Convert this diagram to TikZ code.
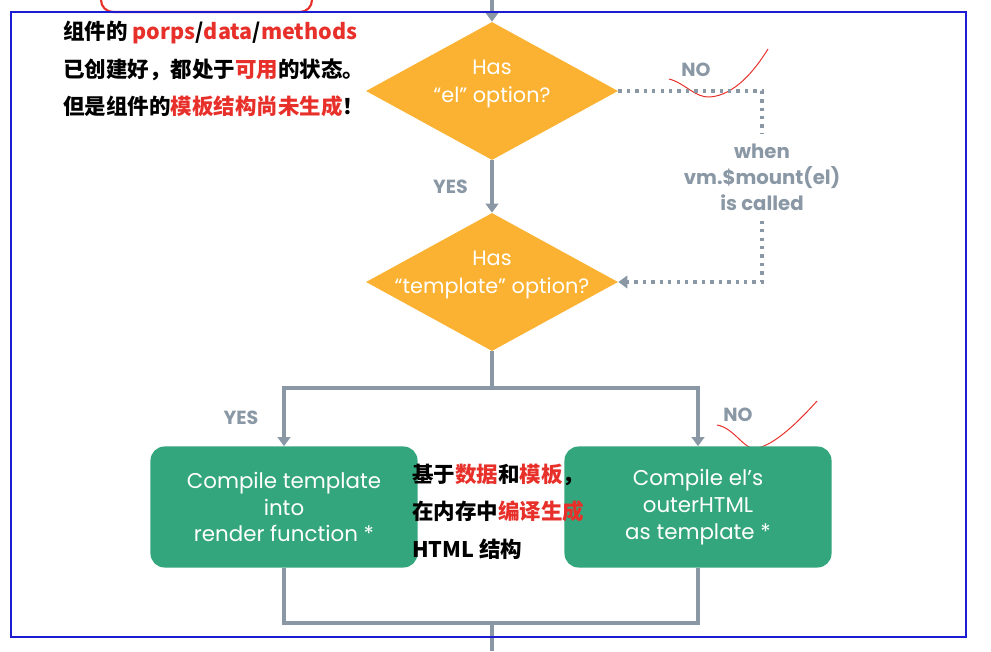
\documentclass[tikz,border=0pt]{standalone}
\usepackage{fontspec}
\setmainfont{Poppins}
\newfontfamily\cjk{Noto Sans CJK SC}
\usetikzlibrary{positioning, shapes.geometric, arrows.meta}
\definecolor{myorange}{HTML}{FBB232}
\definecolor{mygreen}{HTML}{33A67D}
\definecolor{mygray}{HTML}{8A98A5}
\definecolor{myred}{HTML}{E8302A}
\definecolor{myblue}{HTML}{1C1CD2}
\tikzset{
	decision/.style={
			diamond,
			fill=myorange,
			minimum width=6.3cm,
			minimum height=3.45cm,
			aspect=1.83,
			inner sep=0pt
		},
	dtext/.style={
			text=white,
			align=center,
			yshift=0.18cm,
			font=\fontsize{14.8}{19.5}\selectfont
		},
	process/.style={
			rectangle,
			rounded corners=10pt,
			fill=mygreen,
			text=white,
			align=center,
			minimum width=6.675cm,
			minimum height=3.025cm,
			font=\fontsize{15.2}{19}\selectfont
		},
	flow/.style={
			draw=mygray,
			line width=2.2pt,
			-{Triangle[width=9pt,length=6.5pt]}
		},
	plainline/.style={
			draw=mygray,
			line width=2.2pt
		},
	waitline/.style={
			draw=mygray,
			line width=2.6pt,
			dash pattern=on 2.4pt off 3.6pt
		},
	yesno/.style={
			text=mygray,
			font=\bfseries\fontsize{13.5}{16}\selectfont
		},
	note/.style={
			align=left,
			inner sep=0pt,
			font=\cjk\bfseries\fontsize{15.3}{26.5}\selectfont
		}
}

\begin{document}
\begin{tikzpicture}[x=0.025cm, y=-0.025cm]
\useasboundingbox (0,0) rectangle (991,651);

% red marks
\draw[myred, line width=1.5pt, rounded corners=0.3cm] (101,0) -- (101,12) -- (312,12) -- (312,0);
\draw[myred, line width=0.7pt] (669,79) .. controls (685,83) and (695,98) .. (710,97)
  .. controls (735,95) and (755,70) .. (768,49);
\draw[myred, line width=0.7pt] (717,425) .. controls (735,428) and (745,452) .. (757,448)
  .. controls (775,445) and (800,420) .. (817,401);

\coordinate (top) at (492,0);
\node[decision, label={[dtext]center:Has\\“el” option?}] (n1) at (492,91) {};
\node[decision, label={[dtext]center:Has\\“template” option?}] (n2) at (492,282) {};
\node[yesno, align=center, font=\bfseries\fontsize{14}{18.5}\selectfont, inner sep=0.25cm] (n3) at (762,177) {when\\vm.\$mount(el)\\is called};
\node[process] (b1) at (284,507) {Compile template\\into\\render function *};
\node[process] (b2) at (698,507) {Compile el’s\\outerHTML\\as template *};

\node[yesno] (no1) at (696,70) {NO};
\node[yesno] (yes2) at (241,418) {YES};
\node[yesno] (no2) at (738,415) {NO};

\node[note, anchor=north west] (t1) at (63,21) {组件的 \textcolor{myred}{porps}/\textcolor{myred}{data}/\textcolor{myred}{methods}\\
已创建好，都处于\textcolor{myred}{可用}的状态。\\
但是组件的\textcolor{myred}{模板结构尚未生成}！};
\node[note, anchor=north west] (t2) at (412,464) {基于\textcolor{myred}{数据}和\textcolor{myred}{模板}，\\
在内存中\textcolor{myred}{编译生成}\\
HTML 结构};

\coordinate (split) at (492,388);
\coordinate (join) at (492,623);
\coordinate (bottom) at (492,651);

\draw[flow] (top) -- (n1.north);
\draw[flow] (n1.south) -- node[yesno, left=0.45cm] {YES} (n2.north);
\draw[waitline] (n1.east) -| (n3.north);
\draw[waitline, -{Triangle[width=9pt,length=6.5pt]}] (n3.south) |- (n2.east);
\draw[plainline] (n2.south) -- (split);
\draw[flow] (split) -| (b1.north);
\draw[flow] (split) -| (b2.north);
\draw[plainline] (b1.south) |- (join) -| (b2.south);
\draw[plainline] (join) -- (bottom);

\draw[myblue, line width=1.5pt] (11,12) rectangle (966,637);
\end{tikzpicture}
\end{document}
